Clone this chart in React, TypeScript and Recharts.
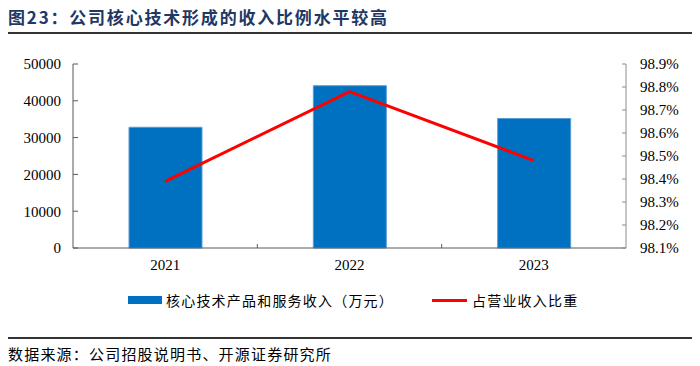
import React from "react";
import { ComposedChart, Bar, Line, XAxis, YAxis } from "recharts";

const years = ["2021", "2022", "2023"];
const coreRevenue = [32800, 44100, 35200];
const revenueShare = [98.39, 98.78, 98.48];
const leftTicks = [0, 10000, 20000, 30000, 40000, 50000];
const rightTicks = [98.1, 98.2, 98.3, 98.4, 98.5, 98.6, 98.7, 98.8, 98.9];
const barName = "核心技术产品和服务收入（万元）";
const lineName = "占营业收入比重";
const title = "图23：公司核心技术形成的收入比例水平较高";
const source = "数据来源：公司招股说明书、开源证券研究所";

const data = years.map((y, i) => ({
  year: y,
  revenue: coreRevenue[i],
  share: revenueShare[i],
}));

const serif = "'Liberation Serif', 'Times New Roman', serif";
const cjk = "'Noto Sans CJK SC', sans-serif";

// x ticks: label under the centre, small inner tick at the category boundary
const XTick = (props: any) => {
  const { x, y, payload, index } = props;
  const half = payload && payload.offset ? payload.offset : 92;
  return (
    <g>
      {index < years.length - 1 && (
        <line x1={x + half} x2={x + half} y1={248} y2={244} stroke="#595959" />
      )}
      <text x={x} y={y + 14} textAnchor="middle" fontFamily={serif} fontSize={15} fill="#000">
        {payload.value}
      </text>
    </g>
  );
};

export default function App() {
  return (
    <div style={{ position: "absolute", left: 0, top: 0, width: 700, height: 366, background: "#fff" }}>
      <div
        style={{
          position: "absolute",
          left: 8,
          top: 4,
          fontFamily: cjk,
          fontWeight: "bold",
          fontSize: 17,
          letterSpacing: 1.8,
          color: "#1F3864",
          whiteSpace: "nowrap",
        }}
      >
        {title}
      </div>
      <div style={{ position: "absolute", left: 8, top: 32, width: 684, height: 1.5, background: "#333" }} />

      <ComposedChart
        width={700}
        height={366}
        data={data}
        margin={{ top: 64, right: 0, bottom: 0, left: 0 }}
        style={{ position: "absolute", left: 0, top: 0 }}
      >
        <XAxis
          dataKey="year"
          axisLine={{ stroke: "#595959" }}
          tickLine={false}
          tick={<XTick />}
          height={118}
        />
        <YAxis
          yAxisId="left"
          orientation="left"
          width={73}
          domain={[0, 50000]}
          ticks={leftTicks}
          interval={0}
          axisLine={{ stroke: "#595959" }}
          tickLine={{ stroke: "#595959" }}
          tickSize={-5}
          tickMargin={17}
          tick={{ fontFamily: serif, fontSize: 15, fill: "#000" }}
        />
        <YAxis
          yAxisId="right"
          orientation="right"
          width={74}
          domain={[98.1, 98.9]}
          ticks={rightTicks}
          interval={0}
          axisLine={{ stroke: "#8c8c8c" }}
          tickLine={{ stroke: "#8c8c8c" }}
          tickSize={-4}
          tickMargin={18}
          tickFormatter={(v: number) => `${v.toFixed(1)}%`}
          tick={{ fontFamily: serif, fontSize: 15, fill: "#000" }}
          allowDataOverflow
        />
        <Bar
          yAxisId="left"
          dataKey="revenue"
          name={barName}
          fill="#0070C0"
          stroke="#5B9BD5"
          strokeWidth={1}
          barSize={73}
          isAnimationActive={false}
        />
        <Line
          yAxisId="right"
          dataKey="share"
          name={lineName}
          type="linear"
          stroke="#FF0000"
          strokeWidth={3}
          dot={false}
          activeDot={false}
          isAnimationActive={false}
        />
      </ComposedChart>

      {/* legend */}
      <div style={{ position: "absolute", left: 128, top: 296, width: 34, height: 8, background: "#0070C0" }} />
      <div
        style={{
          position: "absolute",
          left: 166,
          top: 290,
          fontFamily: cjk,
          fontSize: 14,
          letterSpacing: 1.2,
          lineHeight: "20px",
          color: "#000",
          whiteSpace: "nowrap",
        }}
      >
        {barName}
      </div>
      <div style={{ position: "absolute", left: 432, top: 298.5, width: 35, height: 3, background: "#FF0000" }} />
      <div
        style={{
          position: "absolute",
          left: 472,
          top: 290,
          fontFamily: cjk,
          fontSize: 14,
          letterSpacing: 1.2,
          lineHeight: "20px",
          color: "#000",
          whiteSpace: "nowrap",
        }}
      >
        {lineName}
      </div>

      <div style={{ position: "absolute", left: 8, top: 337, width: 684, height: 1.5, background: "#333" }} />
      <div
        style={{
          position: "absolute",
          left: 8,
          top: 343,
          fontFamily: cjk,
          fontSize: 15,
          letterSpacing: 1.2,
          lineHeight: "22px",
          color: "#000",
          whiteSpace: "nowrap",
        }}
      >
        {source}
      </div>
    </div>
  );
}
